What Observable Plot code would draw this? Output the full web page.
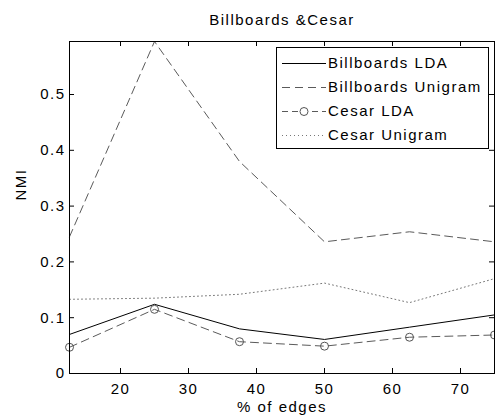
<!DOCTYPE html>
<html>
<head>
<meta charset="utf-8">
<script src="https://cdn.jsdelivr.net/npm/d3@7"></script>
<script src="https://cdn.jsdelivr.net/npm/@observablehq/plot@0.6"></script>
<style>
  html, body { margin: 0; padding: 0; background: #fff; }
  #wrap { position: relative; width: 495px; height: 418px; font-family: "Liberation Sans", Arial, sans-serif; }
  #legend { position: absolute; left: 276px; top: 47px; width: 213px; height: 102px; box-sizing: border-box;
            border: 1px solid #000; background: #fff; }
  .row { position: absolute; left: 0; height: 20px; line-height: 20px; font-size: 15px; letter-spacing: 1.5px; color: #000; white-space: nowrap; }
  .row svg { position: absolute; left: 5px; top: 0; }
  .row span { position: absolute; left: 51px; top: 0; }
</style>
</head>
<body>
<div id="wrap"></div>
<script>
const edges = [12.5, 25, 37.5, 50, 62.5, 75];
const billboardsLDA = [0.070, 0.124, 0.080, 0.061, 0.083, 0.105];
const billboardsUnigram = [0.245, 0.595, 0.380, 0.236, 0.254, 0.236];
const cesarLDA = [0.047, 0.115, 0.057, 0.049, 0.065, 0.069];
const cesarUnigram = [0.133, 0.135, 0.142, 0.162, 0.127, 0.170];
const seriesNames = ["Billboards LDA", "Billboards Unigram", "Cesar LDA", "Cesar Unigram"];
const xTicks = [20, 30, 40, 50, 60, 70];
const yTicks = [0, 0.1, 0.2, 0.3, 0.4, 0.5];
const titleText = "Billboards &Cesar";
const xLabel = "% of edges";
const yLabel = "NMI";

const W = 495, H = 418, ML = 69, MR = 1, MT = 41, MB = 45;
const plotW = W - ML - MR, plotH = H - MT - MB, TICK = 5;

const styles = [
  {stroke: "#000", dash: null, marker: false},
  {stroke: "#5a5a5a", dash: "8,5", marker: false},
  {stroke: "#5a5a5a", dash: "8,5", marker: true},
  {stroke: "#777", dash: "1,3", marker: false}
];
const values = [billboardsLDA, billboardsUnigram, cesarLDA, cesarUnigram];
const rows = values.flatMap((vals, s) => vals.map((v, i) => ({series: seriesNames[s], x: edges[i], y: v})));

const lineMarks = seriesNames.map((name, s) =>
  Plot.line(rows.filter(d => d.series === name), {
    x: "x", y: "y", stroke: styles[s].stroke, strokeWidth: 1,
    strokeDasharray: styles[s].dash ?? undefined
  })
);

const chart = Plot.plot({
  width: W,
  height: H,
  marginLeft: ML,
  marginRight: MR,
  marginTop: MT,
  marginBottom: MB,
  x: {domain: [12.5, 75]},
  y: {domain: [0, 0.595]},
  style: {fontFamily: "'Liberation Sans', Arial, sans-serif", fontSize: "15px", letterSpacing: "1.5px", color: "#000", background: "#fff", overflow: "visible"},
  marks: [
    ...lineMarks,
    Plot.dot(rows.filter(d => d.series === "Cesar LDA"), {x: "x", y: "y", r: 4, stroke: "#555", fill: "none", strokeWidth: 1}),
    Plot.frame({stroke: "#000"}),
    // inward tick marks on all four sides
    Plot.ruleX(xTicks, {x: d => d, stroke: "#000", insetTop: plotH - TICK}),
    Plot.ruleX(xTicks, {x: d => d, stroke: "#000", insetBottom: plotH - TICK}),
    Plot.ruleY(yTicks, {y: d => d, stroke: "#000", insetRight: plotW - TICK}),
    Plot.ruleY(yTicks, {y: d => d, stroke: "#000", insetLeft: plotW - TICK}),
    Plot.axisX(xTicks, {anchor: "bottom", tickSize: 0, tickPadding: 10, tickFormat: d => String(d), label: null}),
    Plot.axisY(yTicks, {anchor: "left", tickSize: 0, tickPadding: 4, tickFormat: d => String(d), label: null}),
    Plot.text([titleText], {text: d => d, frameAnchor: "top", lineAnchor: "middle", dy: -21}),
    Plot.text([xLabel], {text: d => d, frameAnchor: "bottom", lineAnchor: "middle", dy: 34}),
    Plot.text([yLabel], {text: d => d, frameAnchor: "left", lineAnchor: "middle", rotate: -90, dx: -48, dy: -7})
  ]
});

const wrap = document.getElementById("wrap");
wrap.appendChild(chart);

const legend = document.createElement("div");
legend.id = "legend";
seriesNames.forEach((name, i) => {
  const row = document.createElement("div");
  row.className = "row";
  row.style.top = (4.5 + i * 24.3) + "px";
  row.style.width = "100%";
  const st = styles[i];
  let svg = `<svg width="44" height="20" viewBox="0 0 44 20"><line x1="0" y1="10.5" x2="44" y2="10.5" stroke="${st.stroke}" stroke-width="1"${st.dash ? ` stroke-dasharray="${st.marker ? "6,4" : st.dash}"` : ""}/>`;
  if (st.marker) svg += `<circle cx="22" cy="10.5" r="4" fill="#fff" stroke="#555" stroke-width="1"/>`;
  svg += `</svg>`;
  row.innerHTML = svg + `<span>${name}</span>`;
  legend.appendChild(row);
});
wrap.appendChild(legend);
</script>
</body>
</html>
